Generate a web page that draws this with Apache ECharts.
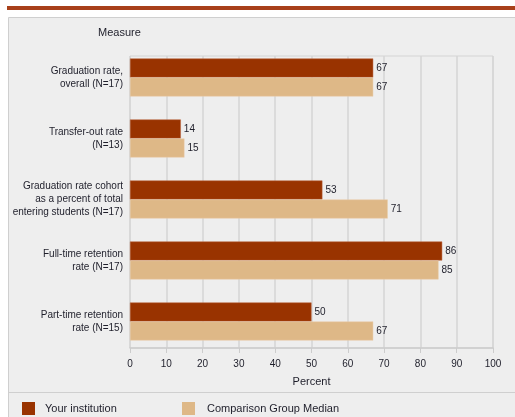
<!DOCTYPE html>
<html><head><meta charset="utf-8">
<script src="https://cdn.jsdelivr.net/npm/echarts@6/dist/echarts.min.js"></script>
<style>html,body{margin:0;padding:0;background:#fff}#c{width:515px;height:417px}</style>
</head><body><div id="c"></div>
<script>
const categories = [
  "Graduation rate,\noverall (N=17)",
  "Transfer-out rate\n(N=13)",
  "Graduation rate cohort\nas a percent of total\nentering students (N=17)",
  "Full-time retention\nrate (N=17)",
  "Part-time retention\nrate (N=15)"
];
const yourInstitution = [67, 14, 53, 86, 50];
const comparisonMedian = [67, 15, 71, 85, 67];
const seriesNames = ["Your institution", "Comparison Group Median"];
const xTicks = [0, 10, 20, 30, 40, 50, 60, 70, 80, 90, 100];

const FONT = '"Liberation Sans", Arial, sans-serif';
const TXT = '#1e1e2a';
const chart = echarts.init(document.getElementById('c'));
chart.setOption({
  animation: false,
  backgroundColor: '#ffffff',
  textStyle: { fontFamily: FONT },
  graphic: [
    { type: 'rect', z: -10, shape: { x: 7, y: 6, width: 510, height: 4 }, style: { fill: '#a8401a' } },
    { type: 'rect', z: -10, shape: { x: 8.5, y: 17.5, width: 520, height: 410 }, style: { fill: '#eeeeee', stroke: '#cfcfcf', lineWidth: 1 } },
    { type: 'line', z: -9, shape: { x1: 8, y1: 392.5, x2: 515, y2: 392.5 }, style: { stroke: '#cfcfcf', lineWidth: 1 } },
    { type: 'text', left: 98, top: 27, style: { text: 'Measure', font: '11px ' + FONT, fill: TXT } }
  ],
  grid: [
    { left: 130, right: 22, top: 56, height: 292, show: true, borderColor: '#d4d4d4', borderWidth: 1, backgroundColor: 'transparent' },
    { left: 130, right: 22, top: 47, height: 305 }
  ],
  xAxis: [
    { gridIndex: 0, type: 'value', min: 0, max: 100, interval: 10,
      name: 'Percent', nameLocation: 'middle', nameGap: 28,
      nameTextStyle: { fontSize: 11, color: TXT, fontFamily: FONT },
      axisLine: { show: true, lineStyle: { color: '#cccccc', width: 1.5 } },
      axisTick: { show: true, length: 5, lineStyle: { color: '#cccccc' } },
      axisLabel: { fontSize: 10, color: TXT, margin: 11, fontFamily: FONT,
        formatter: v => xTicks.includes(v) ? String(v) : '' },
      splitLine: { show: true, lineStyle: { color: '#d4d4d4', width: 1.5 } } },
    { gridIndex: 1, type: 'value', min: 0, max: 100, show: false, splitLine: { show: false } }
  ],
  yAxis: [
    { gridIndex: 0, type: 'category', data: categories, show: false },
    { gridIndex: 1, type: 'category', data: categories, inverse: true,
      axisLine: { show: false }, axisTick: { show: false },
      axisLabel: { fontSize: 10, color: TXT, margin: 7, align: 'right', lineHeight: 13, fontFamily: FONT } }
  ],
  legend: [
    { left: 22, bottom: 2, padding: 0, icon: 'rect', itemWidth: 13, itemHeight: 13,
      itemStyle: { borderWidth: 0 },
      data: [seriesNames[0]], textStyle: { fontSize: 11, color: TXT, fontFamily: FONT, padding: [0,0,0,5] } },
    { left: 182, bottom: 2, padding: 0, icon: 'rect', itemWidth: 13, itemHeight: 13,
      itemStyle: { borderWidth: 0 },
      data: [seriesNames[1]], textStyle: { fontSize: 11, color: TXT, fontFamily: FONT, padding: [0,0,0,7] } }
  ],
  series: [
    { name: seriesNames[0], type: 'bar', xAxisIndex: 1, yAxisIndex: 1, data: yourInstitution,
      barWidth: 19, barGap: '0%',
      itemStyle: { color: '#993300', borderColor: '#b8603a', borderWidth: 0.5 },
      label: { show: true, position: 'right', distance: 3, fontSize: 10, color: TXT, fontFamily: FONT } },
    { name: seriesNames[1], type: 'bar', xAxisIndex: 1, yAxisIndex: 1, data: comparisonMedian,
      barWidth: 19, barGap: '0%',
      itemStyle: { color: '#deb887', borderColor: '#e8cda8', borderWidth: 0.5 },
      label: { show: true, position: 'right', distance: 3, fontSize: 10, color: TXT, fontFamily: FONT } }
  ]
});
</script>
</body></html>
